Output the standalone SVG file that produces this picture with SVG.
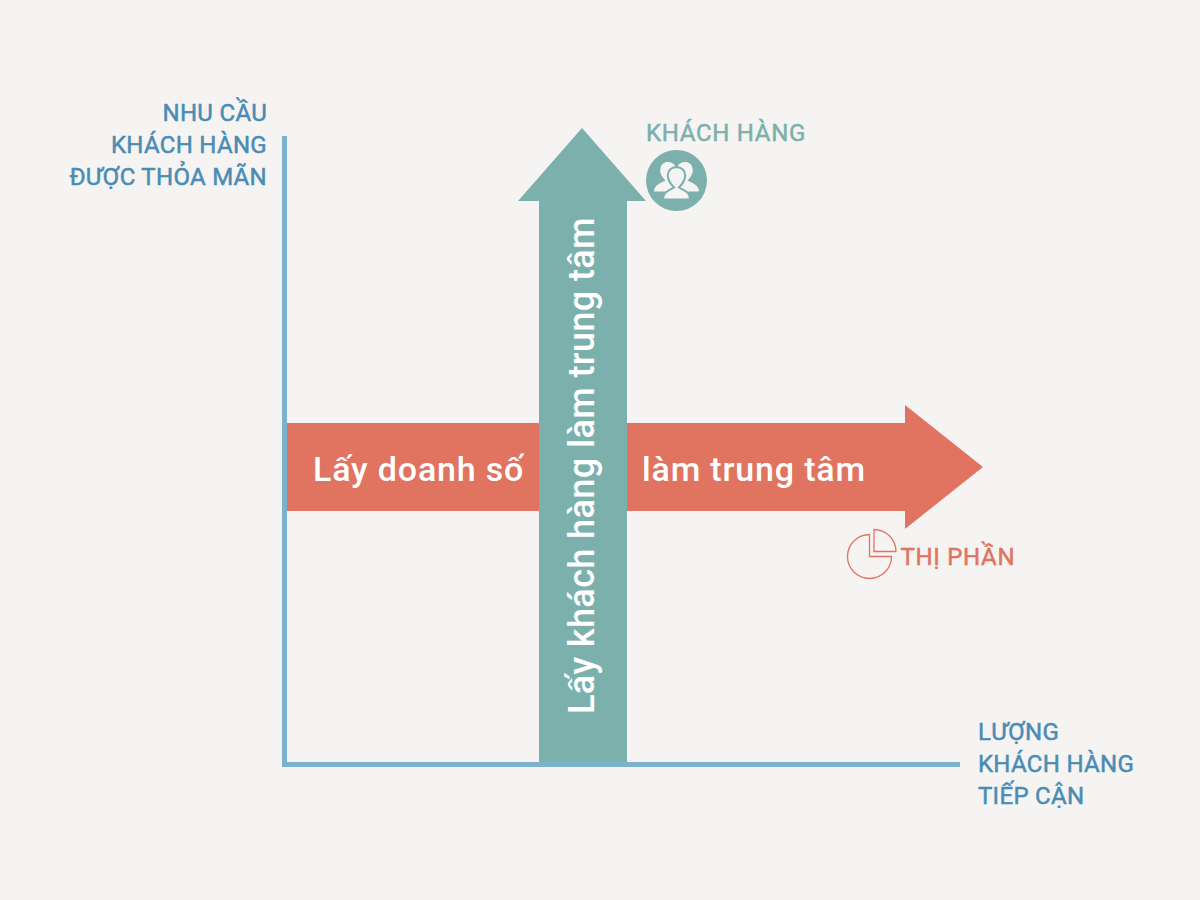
<svg xmlns="http://www.w3.org/2000/svg" width="1200" height="900" viewBox="0 0 1200 900">
<style>
text{font-family:Roboto,"Liberation Sans",sans-serif;font-weight:400}
.ax{font-size:24px;fill:#4a8cb4;stroke:#4a8cb4;stroke-width:.5px;letter-spacing:.3px}
.big{font-size:34px;fill:#fff;font-weight:500;letter-spacing:.82px}
</style>
<rect width="1200" height="900" fill="#f5f4f2"/>
<g id="axes" fill="none" stroke="#7db2cf" stroke-width="5">
<path d="M284.500 136V764.500H960"/>
</g>
<g id="arrow-market">
<path d="M287 423H905V405L983 467L905 529V511H287Z" fill="#e07461"/>
<text class="big" x="313" y="481">Lấy doanh số</text>
<text class="big" x="642" y="481">làm trung tâm</text>
</g>
<g id="arrow-customer">
<path d="M539 762V201H518L582 128L646 201H627V762Z" fill="#7cb0ad"/>
<text class="big" transform="translate(594 714) rotate(-90)" x="0" y="0" style="font-size:36px;letter-spacing:.4px">Lấy khách hàng làm trung tâm</text>
</g>
<g id="label-y" text-anchor="end">
<text class="ax" x="267" y="121">NHU CẦU</text>
<text class="ax" x="267" y="153">KHÁCH HÀNG</text>
<text class="ax" x="267" y="185">ĐƯỢC THỎA MÃN</text>
</g>
<g id="label-x">
<text class="ax" x="978" y="740">LƯỢNG</text>
<text class="ax" x="978" y="772">KHÁCH HÀNG</text>
<text class="ax" x="978" y="804">TIẾP CẬN</text>
</g>
<g id="customer-badge">
<text x="646" y="141" font-size="24" letter-spacing=".7" fill="#7cb0ad" stroke="#7cb0ad" stroke-width=".5">KHÁCH HÀNG</text>
<circle cx="676.500" cy="180.500" r="30.500" fill="#7cb0ad"/>
<g fill="#f5f4f2">
<path d="M654 191.500C654 185 661 183 665.500 180.500C661 176 659.500 172 660.500 168C662 160.500 672 160.500 675 165.500L680 190L668 191.500Z"/>
<path d="M699 191.500C699 185 692 183 687.500 180.500C692 176 693.500 172 692.500 168C691 160.500 681 160.500 678 165.500L673 190L685 191.500Z"/>
<path d="M663 199.500C663 192 668 191 674 187.500C668.500 182 667 176 668.500 172C671 165.500 682 165.500 684.500 172C686 176 684.500 182 679 187.500C685 191 690 192 690 199.500Z" stroke="#7cb0ad" stroke-width="2"/>
</g>
</g>
<g id="share-badge">
<g fill="none" stroke="#e07461" stroke-width="1.300">
<path d="M869.500 534.500A22 22 0 1 0 891.500 556.500H869.500Z"/>
<path d="M874 529.500A22 22 0 0 1 896 551.500H874Z"/>
</g>
<text x="900.500" y="565" font-size="24" letter-spacing=".7" fill="#e07461" stroke="#e07461" stroke-width=".5">THỊ PHẦN</text>
</g>
</svg>
